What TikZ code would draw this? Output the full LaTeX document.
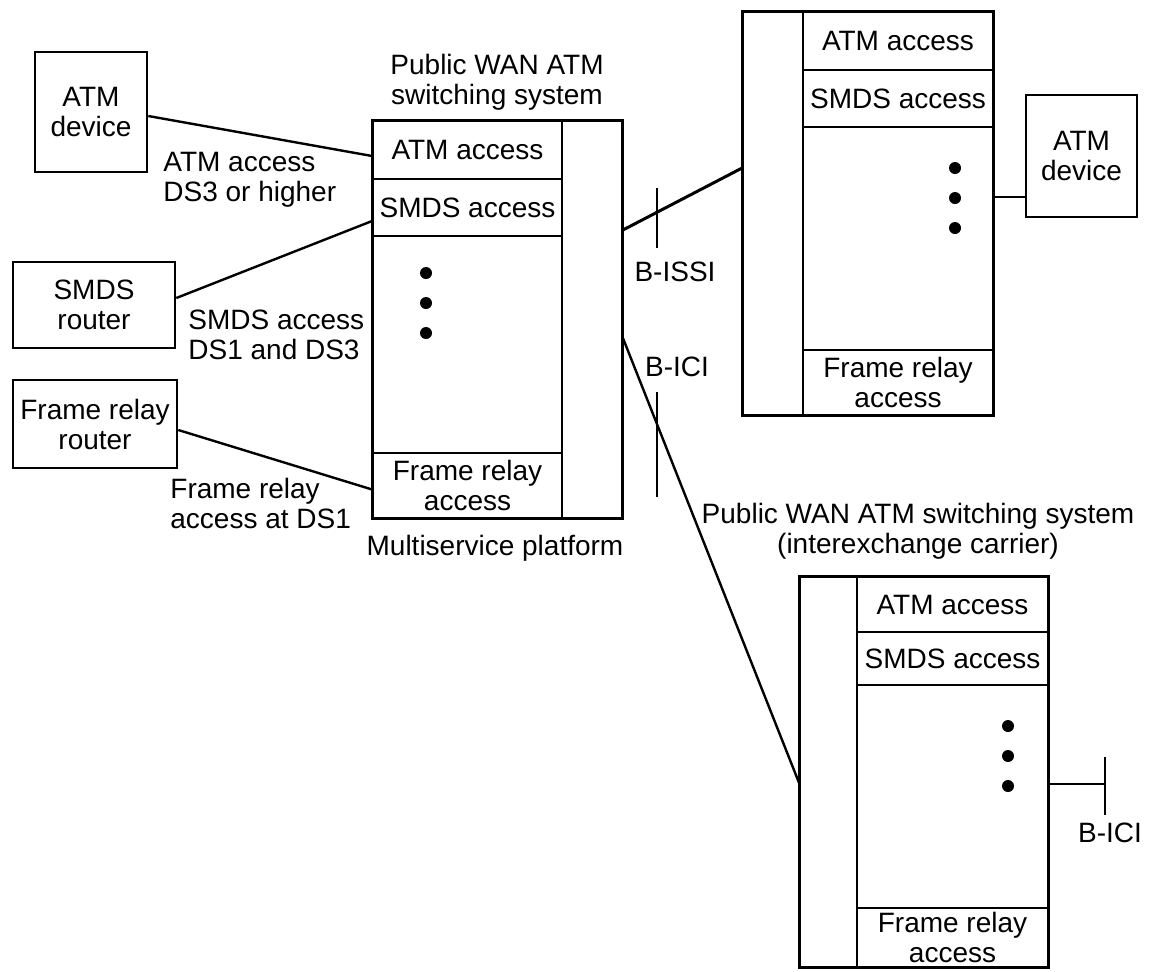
\documentclass[tikz,border=0pt]{standalone}
\usepackage{fontspec}
\setmainfont{Liberation Sans}
\usetikzlibrary{positioning}
\tikzset{
  txt/.style={font=\fontsize{14}{15}\selectfont, align=center, inner sep=0pt},
  device/.style={txt, draw, line width=1.3pt},
  row/.style={txt, draw, line width=0.9pt, minimum width=94.5pt},
  bus/.style={draw, line width=0.9pt, inner sep=0pt, minimum width=30pt},
  frame/.style={line width=1.4pt},
  link/.style={line width=1.2pt},
  tick/.style={line width=0.9pt}
}

\begin{document}
\begin{tikzpicture}[x=0.5pt, y=-0.5pt]
  \useasboundingbox (0,0) rectangle (1161,971);

  % access devices
  \node[device, minimum width=56pt, minimum height=60pt] (atmL) at (91,112) {ATM\\device};
  \node[device, minimum width=81pt, minimum height=43pt] (smds) at (94,305) {SMDS\\router};
  \node[device, minimum width=82pt, minimum height=44pt] (frr) at (95,424) {Frame relay\\router};
  \node[device, minimum width=55.5pt, minimum height=61pt] (atmR) at (1081.5,156) {ATM\\device};

  % multiservice platform
  \node[row, minimum height=29pt] (msATM) at (467.5,150) {ATM access};
  \node[row, minimum height=28.5pt] (msSMDS) at (467.5,207.5) {SMDS access};
  \node[row, minimum height=108.5pt] (msMid) at (467.5,344.5) {};
  \node[row, minimum height=32.5pt] (msFR) at (467.5,485.5) {Frame relay\\access};
  \node[bus, minimum height=198.5pt] (msBus) at (592,319.5) {};
  \draw[frame] (msATM.north west) rectangle (msBus.south east);
  \fill (426,273) circle (3pt) (426,303) circle (3pt) (426,333) circle (3pt);
  \node[txt] (msTitle) at (497,82) {Public WAN ATM\\switching system};
  \node[txt] (msName) at (495,548) {Multiservice platform};

  % second switching system (top right)
  \node[bus, minimum height=201.5pt] (tsBus) at (773,213.5) {};
  \node[row, minimum height=29pt] (tsATM) at (898,41) {ATM access};
  \node[row, minimum height=28.5pt] (tsSMDS) at (898,98.5) {SMDS access};
  \node[row, minimum height=111.5pt] (tsMid) at (898,238.5) {};
  \node[row, minimum height=32.5pt] (tsFR) at (898,382.5) {Frame relay\\access};
  \draw[frame] (tsBus.north west) rectangle (tsFR.south east);
  \fill (955,168) circle (3pt) (955,198) circle (3pt) (955,228) circle (3pt);

  % interexchange carrier system (bottom right)
  \node[bus, minimum width=28.5pt, minimum height=195pt] (bsBus) at (828.5,772) {};
  \node[row, minimum width=95.5pt, minimum height=27.5pt] (bsATM) at (952.5,604.5) {ATM access};
  \node[row, minimum width=95.5pt, minimum height=26.5pt] (bsSMDS) at (952.5,658.5) {SMDS access};
  \node[row, minimum width=95.5pt, minimum height=111.5pt] (bsMid) at (952.5,796.5) {};
  \node[row, minimum width=95.5pt, minimum height=29.5pt] (bsFR) at (952.5,937.5) {Frame relay\\access};
  \draw[frame] (bsBus.north west) rectangle (bsFR.south east);
  \fill (1008,726) circle (3pt) (1008,756) circle (3pt) (1008,786) circle (3pt);
  \node[txt] (bsTitle) at (918,531) {Public WAN ATM switching system\\(interexchange carrier)};

  % access lines
  \draw[link] ([yshift=-2pt]atmL.east) -- ([yshift=-3pt]msATM.west);
  \draw[link] ([yshift=3.5pt]smds.east) -- ([yshift=-6.75pt]msSMDS.west);
  \draw[link] ([yshift=-3pt]frr.east) -- ([yshift=-2pt]msFR.west);
  \node[txt, align=left, anchor=west] (atmLbl) at (163,180) {ATM access\\DS3 or higher};
  \node[txt, align=left, anchor=west] (smdsLbl) at (188,335) {SMDS access\\DS1 and DS3};
  \node[txt, align=left, anchor=west] (frLbl) at (170,503) {Frame relay\\access at DS1};

  % network interfaces
  \draw[link, line width=1.5pt] ([yshift=44.75pt]msBus.east) -- ([yshift=22.75pt]tsBus.west);
  \draw[link] ([yshift=-9.25pt]msBus.east) -- ([yshift=-5.5pt]bsBus.west);
  \draw[link] ([yshift=20.75pt]tsMid.east) -- ([yshift=-20.5pt]atmR.west);
  \coordinate (iciEnd) at (1105,784);
  \draw[link] ([yshift=6.25pt]bsMid.east) -- (iciEnd);
  \draw[tick] (657,188) -- (657,248);
  \draw[tick] (657,392) -- (657,497);
  \draw[tick] (1105,757) -- (1105,815);
  \node[txt] (issi) at (675,272) {B-ISSI};
  \node[txt] (ici) at (677,367) {B-ICI};
  \node[txt] (ici2) at (1110,833) {B-ICI};
\end{tikzpicture}
\end{document}
